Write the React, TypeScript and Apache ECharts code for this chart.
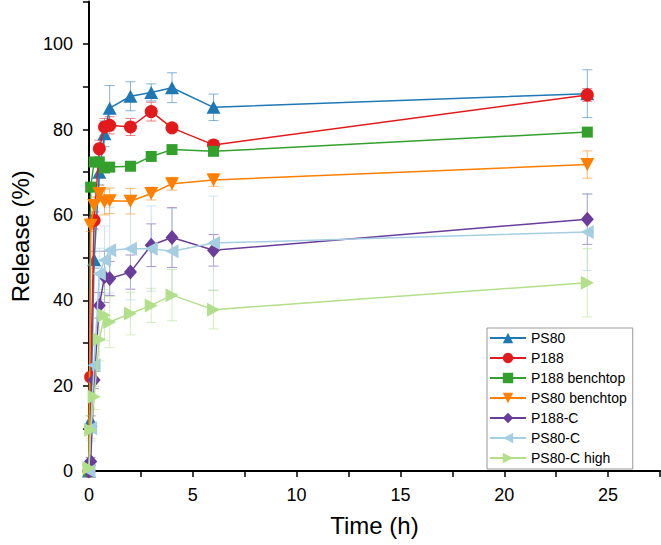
import React, { useEffect, useRef } from "react";
import * as echarts from "echarts";

// Time points (h)
const times = [0, 0.083, 0.25, 0.5, 0.75, 1, 2, 3, 4, 6, 24];

const seriesNames = ["PS80", "P188", "P188 benchtop", "PS80 benchtop", "P188-C", "PS80-C", "PS80-C high"];

// Release (%) values
const ps80 = [0, 11.9, 49.5, 70, 79, 85.0, 87.8, 88.7, 89.8, 85.2, 88.4];
const p188 = [0, 22, 58.7, 75.5, 80.6, 81.0, 80.6, 84.2, 80.4, 76.4, 88.1];
const p188Bench = [0, 66.5, 72.4, 72.4, 71.0, 71.2, 71.4, 73.7, 75.3, 74.9, 79.4];
const ps80Bench = [0, 57.6, 62.2, 65.0, 63.0, 63.3, 63.2, 65.0, 67.3, 68.2, 71.8];
const p188C = [0, 2.2, 21.3, 38.8, 45.5, 45.1, 46.6, 52.9, 54.7, 51.7, 59.0];
const ps80C = [0, 10, 24.8, 46.2, 49.4, 51.7, 52.1, 52.1, 51.5, 53.4, 56.0];
const ps80CHigh = [0.7, 9.6, 17.4, 30.8, 36.5, 34.9, 36.9, 38.8, 41.2, 37.8, 44.1];

// Standard deviations (error bars)
const ps80Err = [0, 1, 2, 3, 3, 5.3, 3.4, 2, 3.5, 3.1, 5.6];
const p188Err = [0, 1, 2, 2, 2, 2, 2, 2.2, 1, 1, 1.5];
const p188BenchErr = [0, 1, 1, 1, 1, 1, 0.8, 1, 1, 1, 1];
const ps80BenchErr = [0, 1.5, 2, 2, 3, 3, 3, 1.5, 1.5, 1.5, 3.2];
const p188CErr = [0, 1, 2, 3, 6, 4, 4, 5, 7, 3.7, 5.9];
const ps80CErr = [0, 3, 5, 6, 8, 10, 12, 10, 10, 11, 9];
const ps80CHighErr = [0, 2, 3, 5, 6, 6, 5, 4, 6, 4.5, 8];

const xTicks = [0, 5, 10, 15, 20, 25];
const yTicks = [0, 20, 40, 60, 80, 100];

const values = [ps80, p188, p188Bench, ps80Bench, p188C, ps80C, ps80CHigh];
const errors = [ps80Err, p188Err, p188BenchErr, ps80BenchErr, p188CErr, ps80CErr, ps80CHighErr];
const colors = ["#1f78b4", "#e31a1c", "#33a02c", "#ff7f00", "#6a3d9a", "#a6cee3", "#b2df8a"];
const symbols: any[] = ["triangle", "circle", "rect", "triangle", "diamond", "triangle", "triangle"];
const rotations = [0, 0, 0, 180, 0, 90, -90];
const sizes: any[] = [[14, 13], 13, 11, [14, 13], [13, 15], [14, 13], [14, 13]];

const FONT = "'Liberation Sans', Arial, sans-serif";

export default function App() {
  const ref = useRef<HTMLDivElement>(null);
  useEffect(() => {
    if (!ref.current) return;
    const chart = echarts.init(ref.current, null, { renderer: "svg" });

    const errSeries = seriesNames.map((name, si) => ({
      type: "custom",
      name: name + " err",
      z: 1,
      silent: true,
      data: times
        .map((t, i) => [t, values[si][i] - errors[si][i], values[si][i] + errors[si][i], errors[si][i]])
        .filter((d) => d[3] > 0),
      encode: { x: 0, y: [1, 2] },
      renderItem: (params: any, api: any) => {
        const x = api.value(0);
        const lo = api.coord([x, api.value(1)]);
        const hi = api.coord([x, api.value(2)]);
        const hw = 5;
        const style = { stroke: colors[si], lineWidth: 1, opacity: 0.55 };
        return {
          type: "group",
          children: [
            { type: "line", shape: { x1: hi[0], y1: hi[1], x2: lo[0], y2: lo[1] }, style },
            { type: "line", shape: { x1: hi[0] - hw, y1: hi[1], x2: hi[0] + hw, y2: hi[1] }, style },
            { type: "line", shape: { x1: lo[0] - hw, y1: lo[1], x2: lo[0] + hw, y2: lo[1] }, style },
          ],
        };
      },
    }));

    const lineSeries = seriesNames.map((name, si) => ({
      type: "line",
      name,
      z: 2 + si,
      data: times.map((t, i) => [t, values[si][i]]),
      symbol: symbols[si],
      symbolSize: sizes[si],
      symbolRotate: rotations[si],
      showAllSymbol: true,
      lineStyle: { color: colors[si], width: 1.5 },
      itemStyle: { color: colors[si] },
      color: colors[si],
    }));

    chart.setOption({
      animation: false,
      textStyle: { fontFamily: FONT },
      grid: { left: 76, right: 1, top: 1.5, bottom: 74, containLabel: false },
      legend: {
        data: seriesNames,
        orient: "vertical",
        left: 487,
        top: 328,
        itemWidth: 36,
        itemHeight: 13,
        itemGap: 6,
        padding: [3, 6, 4, 2],
        borderColor: "#999",
        borderWidth: 1,
        backgroundColor: "#fff",
        textStyle: { fontSize: 14, color: "#000", fontFamily: FONT },
      },
      xAxis: {
        type: "value",
        min: xTicks[0],
        max: 27.5,
        interval: 5,
        name: "Time (h)",
        nameLocation: "middle",
        nameGap: 42,
        nameTextStyle: { fontSize: 24, color: "#000", fontFamily: FONT },
        axisLine: { show: true, onZero: false, lineStyle: { color: "#000", width: 2 } },
        axisTick: { show: true, length: 6, lineStyle: { color: "#000", width: 1.5 } },
        minorTick: { show: true, splitNumber: 2, length: 6, lineStyle: { color: "#000", width: 1.5 } },
        splitLine: { show: false },
        axisLabel: { fontSize: 18, color: "#000", margin: 15, fontFamily: FONT, showMaxLabel: false },
      },
      yAxis: {
        type: "value",
        min: yTicks[0],
        max: 110,
        interval: 20,
        name: "Release (%)",
        nameLocation: "middle",
        nameGap: 50,
        nameTextStyle: { fontSize: 24, color: "#000", fontFamily: FONT },
        axisLine: { show: true, onZero: false, lineStyle: { color: "#000", width: 2 } },
        axisTick: { show: true, length: 6, lineStyle: { color: "#000", width: 1.5 } },
        minorTick: { show: true, splitNumber: 2, length: 6, lineStyle: { color: "#000", width: 1.5 } },
        splitLine: { show: false },
        axisLabel: { fontSize: 18, color: "#000", margin: 16, fontFamily: FONT, showMaxLabel: false },
      },
      series: [...errSeries, ...lineSeries],
    });
    return () => chart.dispose();
  }, []);
  return <div ref={ref} style={{ width: 661, height: 545, position: "absolute", left: 0, top: 0 }} />;
}
